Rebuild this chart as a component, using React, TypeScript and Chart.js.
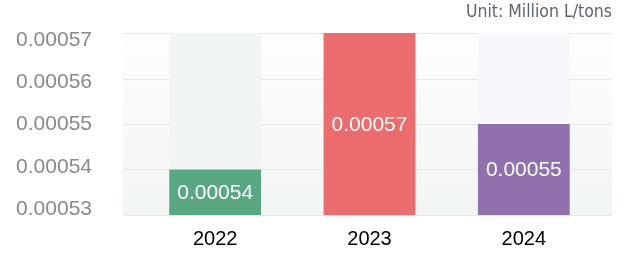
import React, { useEffect, useRef } from "react";
import { Chart, registerables } from "chart.js";

Chart.register(...registerables);

const categories = ["2022", "2023", "2024"];
const values = [0.00054, 0.00057, 0.00055];
const backgroundValues = [0.00057, 0.00057, 0.00057];
const tickValues = [0.00053, 0.00054, 0.00055, 0.00056, 0.00057];
const unitLabel = "Unit: Million L/tons";

const barColors = ["#59a783", "#eb6c6c", "#9170ae"];
const bgColors = ["#f0f5f3", "#fbeeee", "#f7f7fc"];

const plotDecor = {
  id: "plotDecor",
  beforeDatasetsDraw(chart: any) {
    const { ctx, chartArea, scales } = chart;
    const left = chartArea.left - 15;
    const right = chartArea.right + 11;
    ctx.save();
    const g = ctx.createLinearGradient(0, chartArea.top, 0, chartArea.bottom);
    g.addColorStop(0, "#fdfefe");
    g.addColorStop(1, "#f1f5f4");
    ctx.fillStyle = g;
    ctx.fillRect(left, chartArea.top, right - left, chartArea.bottom - chartArea.top);
    ctx.strokeStyle = "#e4e7e6";
    ctx.lineWidth = 1;
    tickValues.forEach((v) => {
      const y = Math.round(scales.y.getPixelForValue(v)) + 0.5;
      ctx.beginPath();
      ctx.moveTo(left, y);
      ctx.lineTo(right, y);
      ctx.stroke();
    });
    ctx.restore();
  },
  afterDraw(chart: any) {
    const { ctx, chartArea, scales } = chart;
    ctx.save();
    ctx.font = "17.5px 'DejaVu Sans Condensed', 'DejaVu Sans'";
    ctx.fillStyle = "#5a6472";
    ctx.textAlign = "right";
    ctx.textBaseline = "middle";
    ctx.fillText(unitLabel, chartArea.right + 11, 12);
    ctx.font = "21px 'Liberation Sans', Arial, sans-serif";
    ctx.fillStyle = "#ffffff";
    ctx.textAlign = "center";
    ctx.textBaseline = "middle";
    values.forEach((v, i) => {
      const x = scales.x.getPixelForValue(i);
      const top = scales.y.getPixelForValue(v);
      const base = scales.y.getPixelForValue(scales.y.min);
      ctx.fillText(v.toFixed(5), x, (top + base) / 2 + 1);
    });
    ctx.restore();
  },
};

export default function App() {
  const ref = useRef<HTMLCanvasElement | null>(null);
  useEffect(() => {
    if (!ref.current) return;
    const chart = new Chart(ref.current, {
      type: "bar",
      data: {
        labels: categories,
        datasets: [
          {
            data: backgroundValues,
            backgroundColor: bgColors,
            grouped: false,
            order: 2,
          } as any,
          {
            data: values,
            backgroundColor: barColors,
            grouped: false,
            order: 1,
          } as any,
        ],
      },
      options: {
        responsive: false,
        animation: false,
        maintainAspectRatio: false,
        layout: { padding: { top: 33, right: 35, left: 0, bottom: 0 } },
        datasets: { bar: { barPercentage: 0.595, categoryPercentage: 1 } },
        plugins: {
          legend: { display: false },
          tooltip: { enabled: false },
          title: { display: false },
        },
        scales: {
          x: {
            grid: { display: false },
            border: { display: false },
            ticks: {
              color: "#000000",
              font: { size: 20, family: "'Liberation Sans', Arial, sans-serif" },
              padding: 4,
            },
            afterFit(s: any) {
              s.height = 47;
              s.paddingLeft = 0;
              s.paddingRight = 0;
            },
          },
          y: {
            display: false,
            min: 0.00053,
            max: 0.00057,
          },
          yl: {
            position: "left",
            min: 0.0005287,
            max: 0.0005716,
            grid: { display: false, drawTicks: false },
            border: { display: false },
            afterBuildTicks(s: any) {
              s.ticks = tickValues.map((v) => ({ value: v }));
            },
            ticks: {
              color: "#8a8a8a",
              padding: 46,
              autoSkip: false,
              font: { size: 21, family: "'Liberation Sans', Arial, sans-serif" },
              callback: (v: any) => Number(v).toFixed(5),
            },
            afterFit(s: any) {
              s.width = 138;
              s.paddingTop = 0;
              s.paddingBottom = 0;
            },
          },
        },
      } as any,
      plugins: [plotDecor],
    });
    return () => chart.destroy();
  }, []);
  return (
    <div style={{ position: "fixed", left: 0, top: 0, width: 636, height: 262, background: "#fff" }}>
      <canvas ref={ref} width={636} height={262} style={{ width: 636, height: 262, display: "block" }} />
    </div>
  );
}
